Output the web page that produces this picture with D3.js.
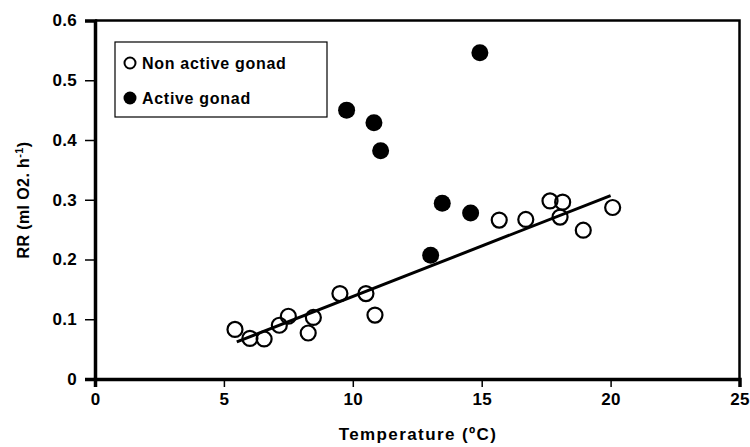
<!DOCTYPE html>
<html>
<head>
<meta charset="utf-8">
<script src="https://cdn.jsdelivr.net/npm/d3@7"></script>
<style>
  body { margin: 0; background: #fff; }
  svg { display: block; font-family: "Liberation Sans", Arial, sans-serif; font-weight: bold; }
</style>
</head>
<body>
<svg width="750" height="447"></svg>
<script>
// Non active gonad (hollow)
const inactiveX = [5.43, 6.01, 6.56, 7.15, 7.5, 8.27, 8.47, 9.5, 10.51, 10.86, 15.68, 16.71, 17.65, 18.14, 18.04, 18.94, 20.08];
const inactiveY = [0.083, 0.068, 0.067, 0.090, 0.105, 0.077, 0.103, 0.143, 0.143, 0.107, 0.266, 0.267, 0.298, 0.296, 0.271, 0.249, 0.287];
// Active gonad (filled)
const activeX = [9.76, 10.82, 11.08, 14.93, 13.47, 14.57, 13.02];
const activeY = [0.45, 0.429, 0.382, 0.546, 0.294, 0.278, 0.207];
// trend line ends
const trendX = [5.5, 20.0];
const trendY = [0.062, 0.307];

const xTicks = [0, 5, 10, 15, 20, 25];
const yTicks = [0, 0.1, 0.2, 0.3, 0.4, 0.5, 0.6];
const legendLabels = ['Non active gonad', 'Active gonad'];

const svg = d3.select('svg');
const x = d3.scaleLinear().domain([0, 25]).range([95, 739.5]);
const y = d3.scaleLinear().domain([0, 0.6]).range([379, 20.5]);

// frame (top + right)
svg.append('path')
   .attr('d', `M${x(0)},${y(0.6)}H${x(25)}V${y(0)}`)
   .attr('fill', 'none').attr('stroke', '#000').attr('stroke-width', 2.5);

// axes
const xAxis = svg.append('g')
   .attr('transform', 'translate(0,' + y(0) + ')')
   .call(d3.axisBottom(x).tickValues(xTicks).tickSize(8).tickPadding(6).tickFormat(d3.format('d')));
const yAxis = svg.append('g')
   .attr('transform', 'translate(' + x(0) + ',0)')
   .call(d3.axisLeft(y).tickValues(yTicks).tickSize(10).tickPadding(8).tickFormat(d => d === 0 ? '0' : d3.format('.1f')(d)));

[xAxis, yAxis].forEach(a => {
  a.select('.domain').attr('stroke-width', 3.5);
  a.selectAll('.tick line').attr('stroke-width', 1.5);
  a.selectAll('.tick text')
   .attr('font-size', 17).attr('font-weight', 'bold')
   .attr('letter-spacing', 0.3)
   .attr('font-family', '"Liberation Sans", Arial, sans-serif');
});

// axis titles
svg.append('text')
   .attr('x', 418).attr('y', 440)
   .attr('text-anchor', 'middle')
   .attr('font-size', 17)
   .attr('letter-spacing', 1.4)
   .text('Temperature (\u00BAC)');

const yt = svg.append('text')
   .attr('transform', 'translate(29,200) rotate(-90)')
   .attr('text-anchor', 'middle')
   .attr('font-size', 16)
   .attr('letter-spacing', 0.4);
yt.append('tspan').text('RR (ml O2. h');
yt.append('tspan').attr('dy', -6).attr('font-size', 11).text('-1');
yt.append('tspan').attr('dy', 6).text(')');

// trend line
svg.append('line')
   .attr('x1', x(trendX[0])).attr('y1', y(trendY[0]))
   .attr('x2', x(trendX[1])).attr('y2', y(trendY[1]))
   .attr('stroke', '#000').attr('stroke-width', 3);

// points
svg.append('g').selectAll('circle')
   .data(inactiveX.map((v, i) => [v, inactiveY[i]]))
   .join('circle')
   .attr('cx', d => x(d[0])).attr('cy', d => y(d[1])).attr('r', 7.5)
   .attr('fill', 'none').attr('stroke', '#000').attr('stroke-width', 2.2);

svg.append('g').selectAll('circle')
   .data(activeX.map((v, i) => [v, activeY[i]]))
   .join('circle')
   .attr('cx', d => x(d[0])).attr('cy', d => y(d[1])).attr('r', 8.5)
   .attr('fill', '#000');

// legend
const lg = svg.append('g');
lg.append('rect')
  .attr('x', 115).attr('y', 42).attr('width', 212).attr('height', 75)
  .attr('fill', '#fff').attr('stroke', '#000').attr('stroke-width', 1.2);
legendLabels.forEach((lab, i) => {
  const cy = 63 + i * 35;
  lg.append('circle')
    .attr('cx', 130).attr('cy', cy).attr('r', i === 0 ? 5.5 : 6.5)
    .attr('fill', i === 0 ? 'none' : '#000')
    .attr('stroke', '#000').attr('stroke-width', i === 0 ? 2 : 0);
  lg.append('text')
    .attr('x', 142).attr('y', cy + 6)
    .attr('font-size', 16)
    .attr('letter-spacing', 0.7)
    .text(lab);
});
</script>
</body>
</html>
